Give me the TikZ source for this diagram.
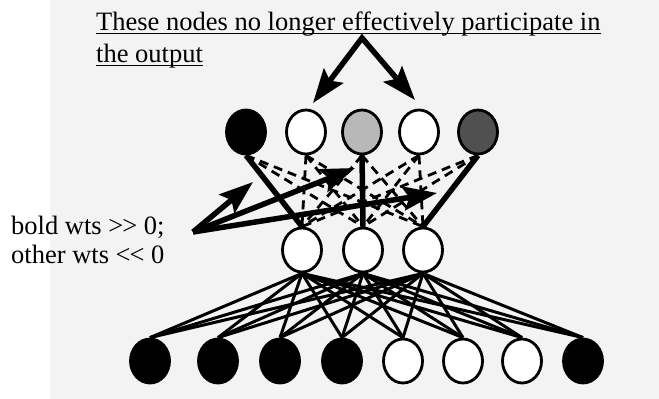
\documentclass[tikz,border=0pt]{standalone}
\usepackage{fontspec}
\setmainfont{Liberation Serif}
\usetikzlibrary{arrows.meta,shapes.geometric}
\definecolor{lightunit}{HTML}{B8B8B8}
\definecolor{darkunit}{HTML}{505050}
\definecolor{pagegray}{HTML}{F3F3F3}
\tikzset{headtip/.tip={Stealth[length=34pt,width=24pt,inset=6pt]}}
\begin{document}
\begin{tikzpicture}[x=1pt,y=-1pt,
  unit/.style={ellipse,draw=black,line width=2.8pt,minimum width=39pt,minimum height=44pt,inner sep=0pt,fill=white},
  onunit/.style={unit,fill=black},
  wire/.style={line width=3pt},
  boldwt/.style={line width=5.5pt},
  weakwt/.style={line width=2.8pt,dash pattern=on 9pt off 6pt},
  bigarrow/.style={line width=5.5pt,-{headtip}},
  lbl/.style={inner sep=0pt,font=\fontsize{26.5}{30}\selectfont}]
\useasboundingbox (0,0) rectangle (659,399);
\fill[pagegray] (50,0) rectangle (659,399);
% output units
\node[onunit] (t1) at (246,132) {};
\node[unit] (t2) at (306,132) {};
\node[unit,fill=lightunit] (t3) at (362,132) {};
\node[unit] (t4) at (419,132) {};
\node[unit,fill=darkunit] (t5) at (478,132) {};
% hidden units
\node[unit] (h1) at (302,250) {};
\node[unit] (h2) at (363,250) {};
\node[unit] (h3) at (423,250) {};
% input units
\node[onunit] (b1) at (150,361) {};
\node[onunit] (b2) at (218,361) {};
\node[onunit] (b3) at (280,361) {};
\node[onunit] (b4) at (342,361) {};
\node[unit] (b5) at (403,361) {};
\node[unit] (b6) at (463,361) {};
\node[unit] (b7) at (522,361) {};
\node[onunit] (b8) at (583,361) {};
% input-to-hidden weights
\foreach \h in {1,2,3}{
  \foreach \b in {1,...,8}{
    \draw[wire] (h\h.south) -- (b\b.north);
  }
}
% hidden-to-output weights
\draw[boldwt] (t1.south) -- (h1.north);
\draw[boldwt] (t3.south) -- (h2.north);
\draw[boldwt] (t5.south) -- (h3.north);
\foreach \t/\h in {1/2,1/3,2/1,2/2,2/3,3/1,3/3,4/1,4/2,4/3,5/1,5/2}{
  \draw[weakwt] (t\t.south) -- (h\h.north);
}
% labels
\node[lbl,anchor=base west] (title1) at (96,30) {These nodes no longer effectively participate in};
\node[lbl,anchor=base west] (title2) at (96,62) {the output};
\draw[line width=1.6pt] ([yshift=-3.5pt]title1.base west) -- ([yshift=-3.5pt]title1.base east);
\draw[line width=1.6pt] ([yshift=-3.5pt]title2.base west) -- ([yshift=-3.5pt]title2.base east);
\node[lbl,anchor=base west] (note1) at (11,234) {bold wts >\kern-1pt>\kern0pt\ 0;};
\node[lbl,anchor=base west] (note2) at (11,263) {other wts <\kern-1pt<\kern0pt\ 0};
% pointer arrows
\coordinate (apex) at (362,38);
\coordinate (p1) at (313,103);
\coordinate (p2) at (415,100);
\draw[line width=5.5pt,line join=miter,{headtip}-{headtip}] (p1) -- (apex) -- (p2);
\coordinate (src) at (193,232);
\coordinate (a1) at (253,182);
\coordinate (a2) at (355,168);
\coordinate (a3) at (437,193);
\draw[bigarrow] (src) -- (a1);
\draw[bigarrow] (src) -- (a2);
\draw[bigarrow] (src) -- (a3);
\end{tikzpicture}
\end{document}
